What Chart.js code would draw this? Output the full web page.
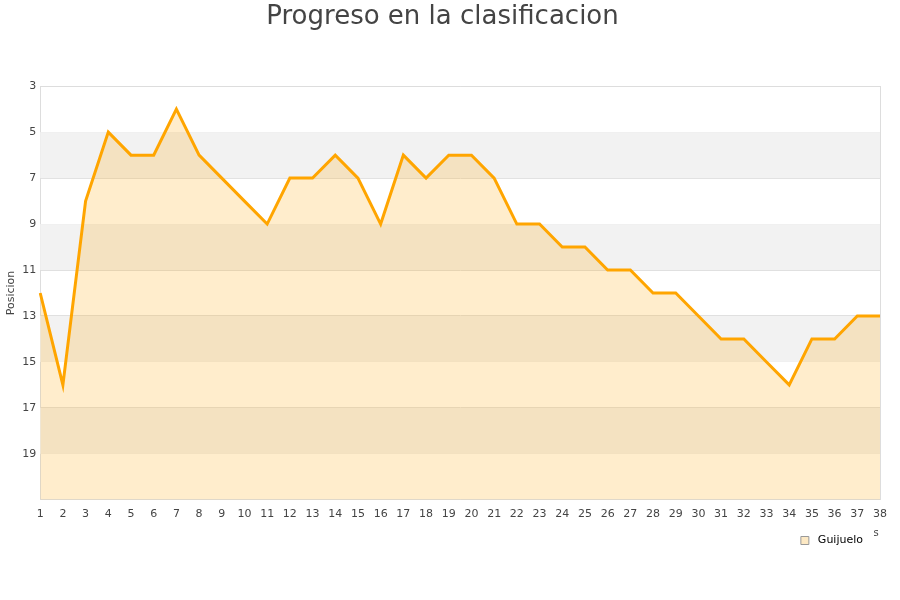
<!DOCTYPE html>
<html>
<head>
<meta charset="utf-8">
<script src="https://cdn.jsdelivr.net/npm/chart.js@4.4.1/dist/chart.umd.min.js"></script>
<style>
  html, body { margin: 0; padding: 0; background: #fff; }
  #wrap { width: 900px; height: 600px; }
</style>
</head>
<body>
<div id="wrap"><canvas id="chart" width="900" height="600"></canvas></div>
<script>
// jornadas 1..38
const jornadas = [1,2,3,4,5,6,7,8,9,10,11,12,13,14,15,16,17,18,19,20,21,22,23,24,25,26,27,28,29,30,31,32,33,34,35,36,37,38];
// posicion de Guijuelo en cada jornada
const posiciones = [12,16,8,5,6,6,4,6,7,8,9,7,7,6,7,9,6,7,6,6,7,9,9,10,10,11,11,12,12,13,14,14,15,16,14,14,13,13];
const equipo = 'Guijuelo';
const grayBands = [[5,7],[9,11],[13,15],[17,19]];

// alternating gray bands behind the data, white page, legend nudge
const bandsPlugin = {
    id: 'bands',
    afterLayout(chart) {
        chart.legend.left -= 11;
        chart.legend.right -= 11;
    },
    beforeDraw(chart) {
        const { ctx } = chart;
        ctx.save();
        ctx.fillStyle = '#fff';
        ctx.fillRect(0, 0, chart.width, chart.height);
        ctx.restore();
    },
    beforeDatasetsDraw(chart) {
        const { ctx, chartArea, scales } = chart;
        const y = scales.y;
        ctx.save();
        ctx.fillStyle = '#f2f2f2';
        grayBands.forEach(b => {
            const y1 = y.getPixelForValue(b[0]);
            const y2 = y.getPixelForValue(b[1]);
            ctx.fillRect(chartArea.left, Math.min(y1, y2), chartArea.right - chartArea.left, Math.abs(y2 - y1));
        });
        ctx.restore();
    },
    afterDraw(chart) {
        // leftover of the clipped axis title in the original
        const { ctx } = chart;
        ctx.save();
        ctx.fillStyle = '#444';
        ctx.font = '10px "DejaVu Sans"';
        ctx.textAlign = 'center';
        ctx.fillText('s', 876, 533);
        ctx.restore();
    }
};

const ctx = document.getElementById('chart').getContext('2d');
new Chart(ctx, {
    type: 'line',
    data: {
        labels: jornadas,
        datasets: [{
            label: equipo,
            data: posiciones,
            borderColor: '#ffa500',
            backgroundColor: 'rgba(255,165,0,0.2)',
            borderWidth: 3,
            pointRadius: 0,
            tension: 0,
            fill: 'start'
        }]
    },
    options: {
        responsive: false,
        animation: false,
        layout: { padding: { left: 5, right: 20, top: 2, bottom: 44 } },
        plugins: {
            title: {
                display: true,
                text: 'Progreso en la clasificacion',
                color: '#444',
                font: { family: 'DejaVu Sans', size: 26, weight: 'normal' },
                padding: { top: 0, bottom: 53 }
            },
            legend: {
                position: 'bottom',
                align: 'end',
                labels: {
                    color: '#111',
                    font: { family: 'DejaVu Sans', size: 11 },
                    boxWidth: 8,
                    boxHeight: 8,
                    padding: 6,
                    generateLabels: () => [{
                        text: ' ' + equipo,
                        fillStyle: '#fde9c4',
                        strokeStyle: '#999',
                        lineWidth: 1,
                        hidden: false,
                        datasetIndex: 0
                    }]
                }
            },
            tooltip: { enabled: false }
        },
        scales: {
            x: {
                offset: false,
                grid: { display: false, drawTicks: false },
                border: { color: '#ddd' },
                ticks: {
                    color: '#444',
                    font: { family: 'DejaVu Sans', size: 11 },
                    maxRotation: 0,
                    autoSkip: false,
                    padding: 8
                }
            },
            y: {
                reverse: true,
                min: 3,
                max: 21,
                grid: { color: '#e0e0e0', drawTicks: false },
                border: { color: '#ddd' },
                ticks: {
                    stepSize: 2,
                    color: '#444',
                    font: { family: 'DejaVu Sans', size: 11 },
                    padding: 4,
                    callback: v => (v === 21 ? '' : v)
                },
                title: {
                    display: true,
                    text: 'Posicion',
                    color: '#444',
                    font: { family: 'DejaVu Sans', size: 11 },
                    padding: 0
                }
            },
            yRight: {
                position: 'right',
                display: true,
                grid: { display: false, drawTicks: false },
                border: { color: '#ddd' },
                ticks: { display: false }
            },
            xTop: {
                position: 'top',
                display: true,
                grid: { display: false, drawTicks: false },
                border: { color: '#ddd' },
                ticks: { display: false }
            }
        }
    },
    plugins: [bandsPlugin]
});
</script>
</body>
</html>
